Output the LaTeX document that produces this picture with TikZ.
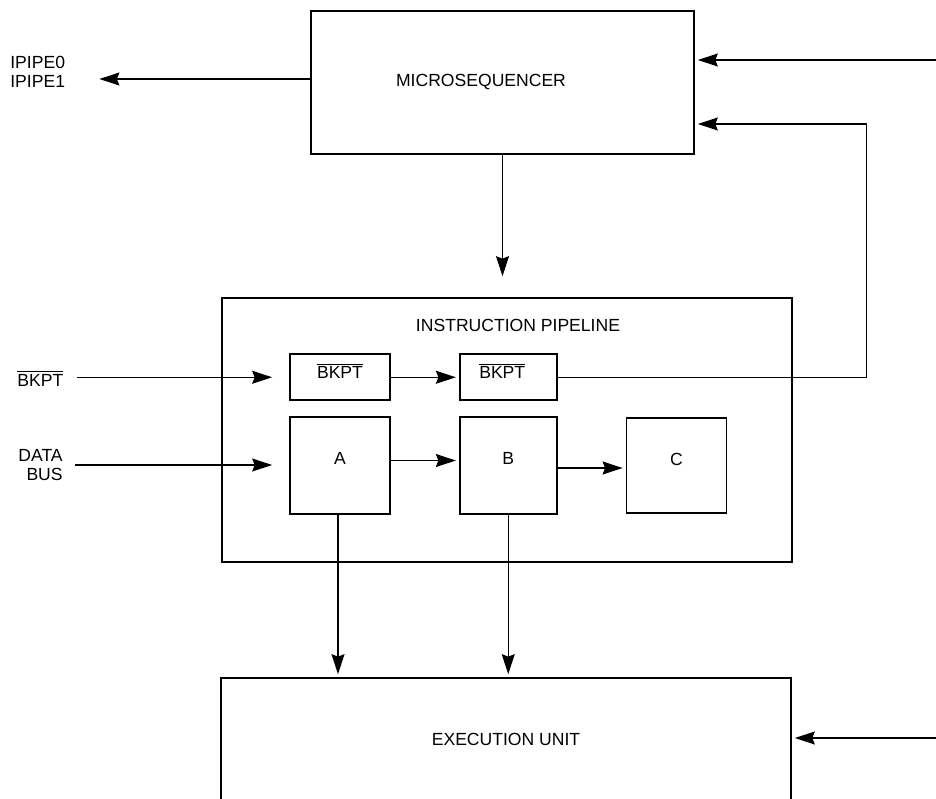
\documentclass[tikz,border=0pt]{standalone}
\usepackage{fontspec}
\setmainfont{Liberation Sans}
\usetikzlibrary{arrows.meta, positioning}

\begin{document}
\begin{tikzpicture}[
  x=0.02cm, y=-0.02cm,
  font=\fontsize{10}{11}\selectfont,
  box/.style={rectangle, draw, line width=1pt, inner sep=0pt},
  stage/.style={box, minimum width=2cm, minimum height=1.94cm},
  flag/.style={box, minimum width=2cm, minimum height=0.92cm},
  sig/.style={inner sep=0pt},
  arrow/.style={-{Stealth[length=0.4cm, width=0.26cm, inset=0.05cm]}, line width=0.7pt, shorten >=0.06cm}
]
  \useasboundingbox (0,0) rectangle (936,798);
  \clip (0,0) rectangle (936,798);

  % blocks
  \node[box, minimum width=7.66cm, minimum height=2.86cm,
    label={[anchor=center, xshift=-0.43cm]center:MICROSEQUENCER}] (mseq) at (502.5,82.5) {};
  \node[box, minimum width=11.4cm, minimum height=5.28cm,
    label={[anchor=center, xshift=0.22cm, yshift=-0.56cm]north:INSTRUCTION PIPELINE}] (pipe) at (507,430) {};
  \node[stage, label={[anchor=center, yshift=0.14cm]center:A}] (a) at (340,465.5) {};
  \node[stage, minimum width=1.94cm, right=1.36cm of a,
    label={[anchor=center, yshift=0.14cm]center:B}] (b) {};
  \node[stage, minimum height=1.9cm, right=1.36cm of b,
    label={[anchor=center, yshift=0.12cm]center:C}] (c) {};
  \node[flag, above=0.3cm of a,
    label={[anchor=center, yshift=0.13cm]center:$\overline{\hbox{BKPT}}$}] (bk1) {};
  \node[flag, minimum width=1.94cm, above=0.3cm of b,
    label={[anchor=center, xshift=-0.12cm, yshift=0.13cm]center:$\overline{\hbox{BKPT}}$}] (bk2) {};
  \node[box, minimum width=11.4cm, minimum height=2.44cm] (exec) at (506,739) {EXECUTION UNIT};

  % signals
  \node[sig, align=left, anchor=west] (ipipe) at (10,72) {IPIPE0\\IPIPE1};
  \node[sig, anchor=base west] (bkin) at (17,386) {$\overline{\hbox{BKPT}}$};
  \node[sig, align=right, anchor=east] (dbus) at (63,465) {DATA\\BUS};
  \coordinate (ctl) at (936,60);
  \coordinate (ext) at (936,738);

  % connections
  \draw[arrow, shorten >=0.68cm] ([yshift=0.07cm]mseq.west) -- ([yshift=0.07cm]mseq.west -| ipipe.east);
  \draw[arrow] (ctl) -- (ctl -| mseq.east);
  \draw[arrow] (bk2.east) -- ++(309,0) |- ([yshift=-0.83cm]mseq.east);
  \draw[arrow, shorten >=0.42cm] (mseq.south) -- (mseq.south |- pipe.north);
  \draw[arrow, shorten <=0.26cm, shorten >=0.34cm] (bkin.east |- bk1) -- (bk1.west);
  \draw[arrow] (bk1) -- (bk2);
  \draw[arrow, shorten <=0.24cm, shorten >=0.34cm] (dbus.east) -- (dbus.east -| a.west);
  \draw[arrow] ([yshift=0.1cm]a.east) -- ([yshift=0.1cm]b.west);
  \draw[arrow] ([yshift=-0.05cm]b.east) -- ([yshift=-0.05cm]c.west);
  \draw[arrow] ([xshift=-0.04cm]a.south) -- ([xshift=-0.04cm]a.south |- exec.north);
  \draw[arrow] (b.south) -- (b.south |- exec.north);
  \draw[arrow] (ext) -- (ext -| exec.east);
\end{tikzpicture}
\end{document}
